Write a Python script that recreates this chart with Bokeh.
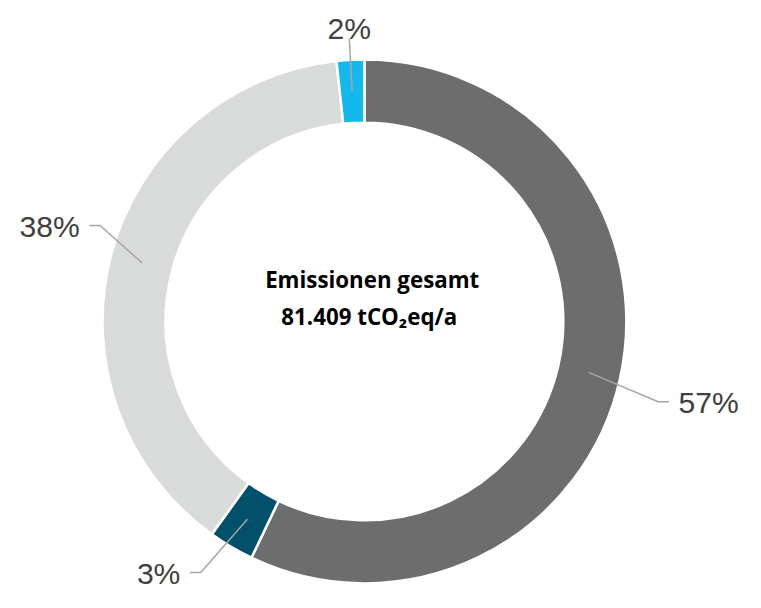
import numpy as np
from bokeh.plotting import figure
from bokeh.models import Range1d
from bokeh.core.properties import value
from bokeh.embed import file_html
from bokeh.resources import INLINE

# ---- data ----
segments = ["Segment 1", "Segment 2", "Segment 3", "Segment 4"]
shares = [57.1, 2.8, 38.4, 1.7]
share_labels = ["57%", "3%", "38%", "2%"]
colors = ["#6D6D6D", "#00506B", "#D9DBDB", "#13B9EC"]
center_title = "Emissionen gesamt"
center_value = "81.409 tCO\u2082eq/a"

# ---- layout (in reference pixel units, y measured upward = -y_from_top) ----
W, H = 745, 592
S, BX, BY = 0.97, 6.0, -3.0     # fit the drawing into the figure
CX, CY = 369.0, -334.0          # ring centre
R_IN, R_OUT = 205, 270
R_LEAD = 237
elbow_r = [314, 309, 290, 292]
elbow_dtheta_deg = [2.5, 2.5, 5.2, 0.0]
TAIL = 11
GAP = 10
LABEL_PX = 31 * S
CENTER_PX = 23 * S

p = figure(width=W, height=H,
           x_range=Range1d((0 - BX) / S, (W - BX) / S),
           y_range=Range1d((BY - H) / S, BY / S),
           output_backend="svg", toolbar_location=None, min_border=0,
           x_axis_location=None, y_axis_location=None)
p.grid.visible = False
p.outline_line_color = None
p.background_fill_color = "white"
p.border_fill_color = "white"

vals = np.array(shares, dtype=float)
frac = vals / vals.sum()
cum = np.concatenate([[0.0], np.cumsum(frac)])
th0 = 2 * np.pi * cum[:-1]      # clockwise from top
th1 = 2 * np.pi * cum[1:]

p.annular_wedge(x=CX, y=CY, inner_radius=R_IN, outer_radius=R_OUT,
                start_angle=list(np.pi / 2 - th0), end_angle=list(np.pi / 2 - th1),
                direction="clock", fill_color=colors, line_color="white",
                line_width=2.5)

mid = (th0 + th1) / 2
xs, ys = [], []
lab_font = dict(text_font=value("Liberation Sans"),
                text_font_size=f"{LABEL_PX:.1f}px", text_color="#404040")
for i, lab in enumerate(share_labels):
    m = mid[i]
    sx, sy = CX + R_LEAD * np.sin(m), CY + R_LEAD * np.cos(m)
    e = m + np.deg2rad(elbow_dtheta_deg[i])
    ex, ey = CX + elbow_r[i] * np.sin(e), CY + elbow_r[i] * np.cos(e)
    if abs(np.sin(m)) < 0.2:
        xs.append([sx, ex]); ys.append([sy, ey])
        p.text(x=[ex], y=[ey + GAP], text=[lab], text_align="center",
               text_baseline="alphabetic", **lab_font)
    else:
        d = 1 if np.sin(m) > 0 else -1
        tx = ex + d * TAIL
        xs.append([sx, ex, tx]); ys.append([sy, ey, ey])
        p.text(x=[tx + d * GAP], y=[ey - 1], text=[lab],
               text_align="left" if d > 0 else "right",
               text_baseline="middle", **lab_font)

p.multi_line(xs=xs, ys=ys, line_color="#A6A6A6", line_width=1.5)

ctr_font = dict(text_font=value("Open Sans"), text_font_style="bold",
                text_font_size=f"{CENTER_PX:.1f}px", text_color="#000000",
                text_align="center", text_baseline="alphabetic")
p.text(x=[CX + 8], y=[-291], text=[center_title], **ctr_font)
p.text(x=[CX + 5], y=[-329], text=[center_value], **ctr_font)

open("out.html", "w").write(file_html(p, INLINE))
